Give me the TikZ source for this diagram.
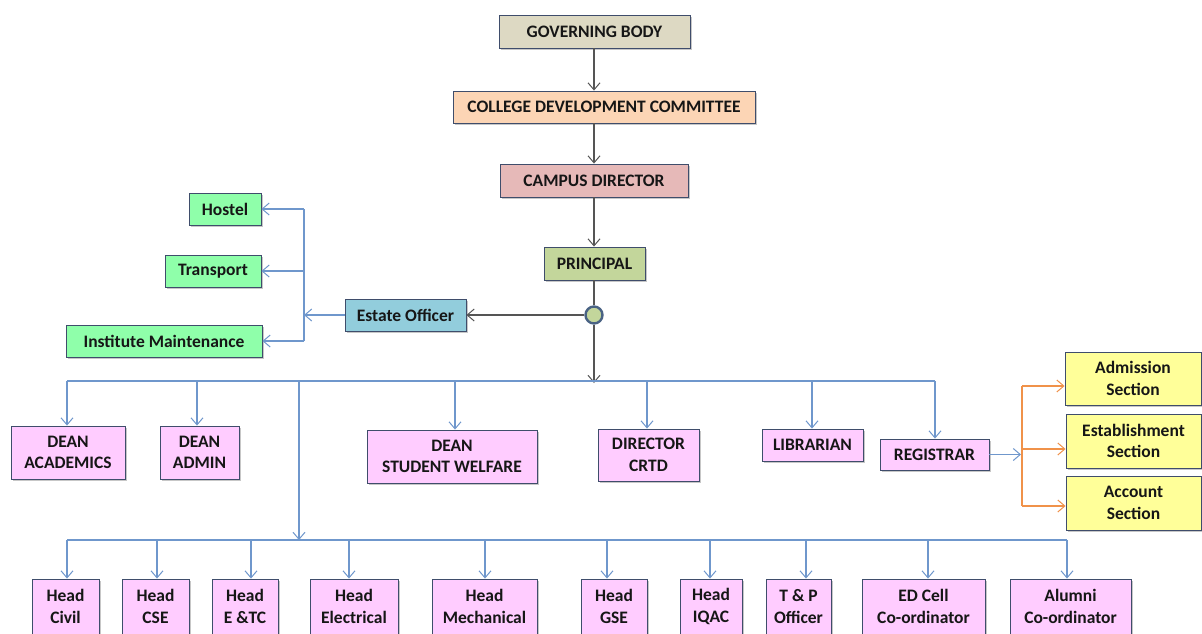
\documentclass[tikz,border=0pt]{standalone}
\usepackage{fontspec}
\setmainfont{Carlito}
\usetikzlibrary{arrows.meta,shadows}
\definecolor{bordc}{HTML}{3F4D6B}
\definecolor{bluel}{HTML}{6F97CC}
\definecolor{grayl}{HTML}{555555}
\definecolor{orgl}{HTML}{F0924A}
\definecolor{cgov}{HTML}{DDD9C3}
\definecolor{ccdc}{HTML}{FCD5B5}
\definecolor{ccd}{HTML}{E6B9B8}
\definecolor{cprin}{HTML}{C3D69B}
\definecolor{cest}{HTML}{92CDDC}
\definecolor{cgrn}{HTML}{8FFFAA}
\definecolor{cpink}{HTML}{FFCCFF}
\definecolor{cyel}{HTML}{FFFF99}
\definecolor{ctxt}{HTML}{161616}
\definecolor{ccirc}{HTML}{4A6384}
\tikzset{
  box/.style={draw=bordc, line width=0.9pt, align=center, inner sep=0pt,
    text=ctxt, font=\fontsize{17.5}{21.5}\selectfont\bfseries,
    drop shadow={shadow xshift=1.6pt, shadow yshift=-1.8pt, fill=black, opacity=0.22}},
  bw/.style={minimum width=#1},
  bh/.style={minimum height=#1},
  tip/.style={-{Straight Barb[length=7pt,width=12pt,line width=1pt]}},
  bl/.style={draw=bluel, line width=1.3pt},
  blA/.style={bl, tip},
  gr/.style={draw=grayl, line width=1.4pt},
  grA/.style={gr, tip},
  orl/.style={draw=orgl, line width=1.3pt},
  orA/.style={orl, tip},
}
\begin{document}
\begin{tikzpicture}[x=1pt,y=-1pt]
\useasboundingbox (0,0) rectangle (1202,633);
\clip (0,0) rectangle (1202,633);
\fill[white] (0,0) rectangle (1202,633);

% top chain
\node[box, fill=cgov, bw=191, bh=33] (gov) at (594.5,31.5) {GOVERNING BODY};
\node[box, fill=ccdc, bw=302, bh=32] (cdc) at (604,107) {COLLEGE DEVELOPMENT COMMITTEE};
\node[box, fill=ccd, bw=188, bh=33] (cd) at (594,180.5) {CAMPUS DIRECTOR};
\node[box, fill=cprin, bw=101, bh=33] (prin) at (594.5,263.5) {PRINCIPAL};
\node[circle, draw=ccirc, line width=2.4pt, fill=cprin, minimum size=17pt, inner sep=0pt] (circ) at (594,315) {};

% estate
\node[box, fill=cest, bw=121, bh=32] (estate) at (405.5,315) {Estate Officer};
\node[box, fill=cgrn, bw=72, bh=32] (hostel) at (225,209) {Hostel};
\node[box, fill=cgrn, bw=96, bh=32] (transport) at (213,271) {Transport};
\node[box, fill=cgrn, bw=196, bh=32] (inst) at (164,341) {Institute Maintenance};

% deans row
\node[box, fill=cpink, bw=114, bh=53] (dacad) at (68,452.5) {DEAN\\ACADEMICS};
\node[box, fill=cpink, bw=79, bh=53] (dadmin) at (199.5,452.5) {DEAN\\ADMIN};
\node[box, fill=cpink, bw=170, bh=53] (dsw) at (452,456.5) {DEAN\\STUDENT WELFARE};
\node[box, fill=cpink, bw=101, bh=52] (dcrtd) at (648.5,455) {DIRECTOR\\CRTD};
\node[box, fill=cpink, bw=101, bh=32] (lib) at (812.5,445) {LIBRARIAN};
\node[box, fill=cpink, bw=109, bh=31] (reg) at (934.5,454.5) {REGISTRAR};

% sections
\node[box, fill=cyel, bw=136, bh=53] (adm) at (1133,378.5) {Admission\\Section};
\node[box, fill=cyel, bw=135, bh=54] (estb) at (1133.5,441) {Establishment\\Section};
\node[box, fill=cyel, bw=135, bh=54] (acc) at (1133.5,503) {Account\\Section};

% bottom row
\node[box, fill=cpink, bw=67, bh=55] (hcivil) at (65.5,606.5) {Head\\Civil};
\node[box, fill=cpink, bw=67, bh=55] (hcse) at (155.5,606.5) {Head\\CSE};
\node[box, fill=cpink, bw=66, bh=55] (hetc) at (245,606.5) {Head\\E \&TC};
\node[box, fill=cpink, bw=88, bh=55] (helec) at (354,606.5) {Head\\Electrical};
\node[box, fill=cpink, bw=105, bh=55] (hmech) at (484.5,606.5) {Head\\Mechanical};
\node[box, fill=cpink, bw=66, bh=55] (hgse) at (614,606.5) {Head\\GSE};
\node[box, fill=cpink, bw=62, bh=55] (hiqac) at (711,606.5) {Head\\IQAC};
\node[box, fill=cpink, bw=65, bh=55] (tp) at (798.5,606.5) {T \& P\\Officer};
\node[box, fill=cpink, bw=123, bh=55] (edc) at (923.5,606.5) {ED Cell\\Co-ordinator};
\node[box, fill=cpink, bw=121, bh=55] (alum) at (1070.5,606.5) {Alumni\\Co-ordinator};

% coordinates
\coordinate (ej) at (304,315);
\coordinate (bus1) at (594,381);
\coordinate (b1L) at (67,381);
\coordinate (b1R) at (935,381);
\coordinate (drop) at (299,381);
\coordinate (bus2) at (299,540);
\coordinate (b2L) at (67,540);
\coordinate (b2R) at (1067,540);
\coordinate (rj) at (1021,454.5);
\coordinate (oT) at (1022,386);
\coordinate (oM) at (1022,449);
\coordinate (oB) at (1022,506);

% gray connectors
\draw[grA] ([xshift=-0.5pt]gov.south) -- ([xshift=-0.5pt]gov.south |- cdc.north);
\draw[grA] ([xshift=-0.5pt]gov.south |- cdc.south) -- (cd.north);
\draw[grA] (cd.south) -- (cd.south |- prin.north);
\draw[gr] (cd.south |- prin.south) -- (circ.north);
\draw[grA] (circ.west) -- (estate.east);
\draw[grA] (circ.south) -- ([yshift=-2pt]bus1);

% estate branch
\draw[blA] (estate.west) -- (ej);
\draw[bl] (ej |- hostel.east) -- (ej |- inst.east);
\draw[blA] (ej |- hostel.east) -- (hostel.east);
\draw[blA] (ej |- transport.east) -- (transport.east);
\draw[blA] (ej |- inst.east) -- (inst.east);

% bus 1
\draw[bl] (b1L) -- (b1R);
\draw[blA] (b1L) -- (b1L |- dacad.north);
\draw[blA] ([xshift=-2.5pt]dadmin.north |- bus1) -- ([xshift=-2.5pt]dadmin.north);
\draw[blA] ([xshift=3pt]dsw.north |- bus1) -- ([xshift=3pt]dsw.north);
\draw[blA] ([xshift=-1.5pt]dcrtd.north |- bus1) -- ([xshift=-1.5pt]dcrtd.north);
\draw[blA] ([xshift=-0.5pt]lib.north |- bus1) -- ([xshift=-0.5pt]lib.north);
\draw[blA] (b1R) -- (b1R |- reg.north);
\draw[blA] (drop) -- (bus2);

% registrar branch
\draw[blA] (reg.east) -- (rj);
\draw[orl] (oT) -- (oB);
\draw[orA] (oT) -- (oT -| adm.west);
\draw[orA] (oM) -- (oM -| estb.west);
\draw[orA] (oB) -- (oB -| acc.west);

% bus 2
\draw[bl] (b2L) -- (b2R);
\draw[blA] (b2L) -- (b2L |- hcivil.north);
\draw[blA] ([xshift=1.5pt]hcse.north |- bus2) -- ([xshift=1.5pt]hcse.north);
\draw[blA] ([xshift=6pt]hetc.north |- bus2) -- ([xshift=6pt]hetc.north);
\draw[blA] ([xshift=-5pt]helec.north |- bus2) -- ([xshift=-5pt]helec.north);
\draw[blA] ([xshift=0.5pt]hmech.north |- bus2) -- ([xshift=0.5pt]hmech.north);
\draw[blA] ([xshift=-7pt]hgse.north |- bus2) -- ([xshift=-7pt]hgse.north);
\draw[blA] ([xshift=-1pt]hiqac.north |- bus2) -- ([xshift=-1pt]hiqac.north);
\draw[blA] ([xshift=7.5pt]tp.north |- bus2) -- ([xshift=7.5pt]tp.north);
\draw[blA] ([xshift=4.5pt]edc.north |- bus2) -- ([xshift=4.5pt]edc.north);
\draw[blA] (b2R) -- (b2R |- alum.north);
\end{tikzpicture}
\end{document}
